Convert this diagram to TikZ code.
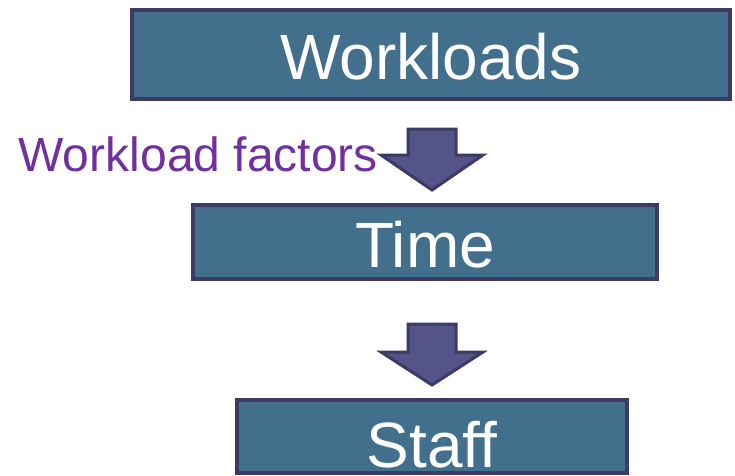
\documentclass[tikz,border=0pt]{standalone}
\usepackage{fontspec}
\setmainfont{Liberation Sans}
\usepackage{tikz}
\usepackage{xcolor}
\usetikzlibrary{positioning, calc}
\definecolor{BoxFill}{HTML}{416F8C}
\definecolor{BoxEdge}{HTML}{3D3A64}
\definecolor{ArrowFill}{HTML}{54538A}
\definecolor{FactorPurple}{HTML}{7030A0}
\newcommand{\bigfont}{\fontsize{64}{64}\selectfont}

\tikzset{
    stagebox/.style={draw=BoxEdge, fill=BoxFill, line width=3.5pt, inner sep=0pt,
                     text=white, font=\bigfont, text height=50pt, text depth=0pt},
    blockarrow/.style={draw=BoxEdge, fill=ArrowFill, line width=3pt, line join=miter}
}

\begin{document}
\begin{tikzpicture}[x=1pt, y=-1pt]
    \useasboundingbox (0,0) rectangle (735,475);

    % Boxes
    \node[stagebox, minimum width=598pt, minimum height=89pt] (workloads) at (431,54.5) {Workloads};
    \node[stagebox, minimum width=464pt, minimum height=74pt] (time) at (425,242) {Time};
    \node[stagebox, minimum width=390pt, minimum height=73pt, text height=61pt] (staff) at (432,436.5) {Staff};

    % Arrows
    \coordinate (tipone) at (432,190);
    \draw[blockarrow] (tipone) -- ++(51,-35) -- ++(-27,0) -- ++(0,-26) -- ++(-48,0)
        -- ++(0,26) -- ++(-27,0) -- cycle;
    \coordinate (tiptwo) at (432,385);
    \draw[blockarrow] (tiptwo) -- ++(51,-33) -- ++(-27,0) -- ++(0,-28) -- ++(-48,0)
        -- ++(0,28) -- ++(-27,0) -- cycle;

    % Side label
    \node[font=\fontsize{48}{48}\selectfont, text=FactorPurple, inner sep=0pt, anchor=base east]
        (factors) at (378,171) {Workload factors};
\end{tikzpicture}
\end{document}
